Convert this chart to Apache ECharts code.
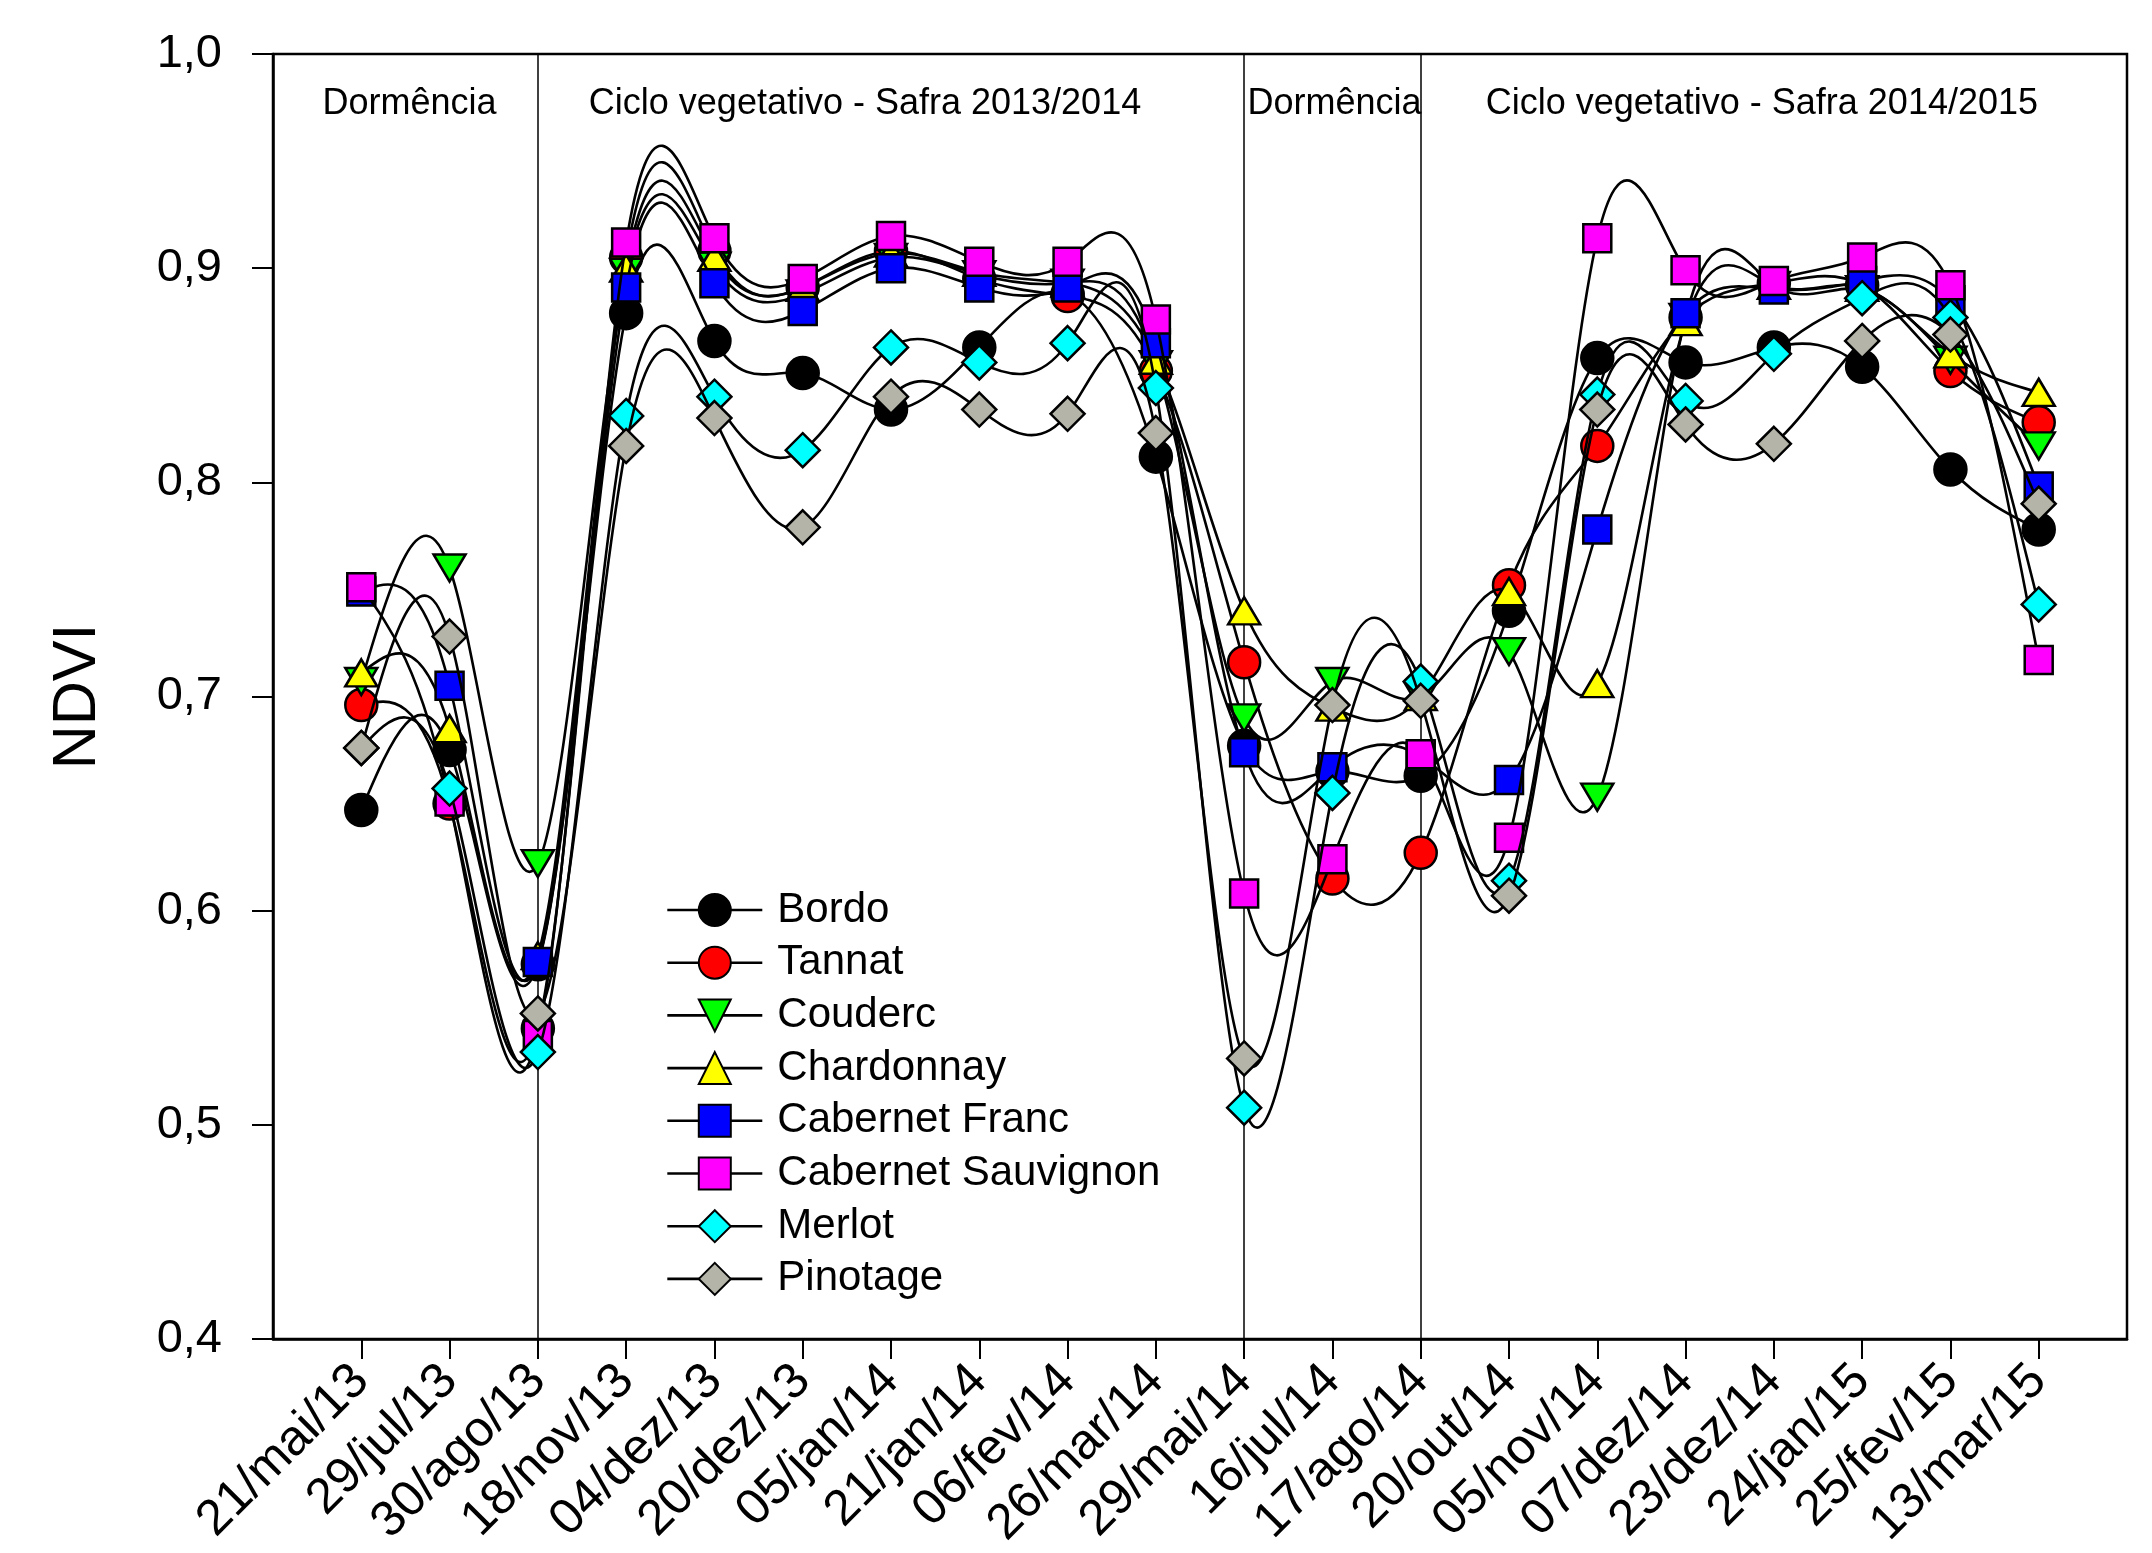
<!DOCTYPE html>
<html>
<head>
<meta charset="utf-8">
<script src="https://cdn.jsdelivr.net/npm/echarts@6/dist/echarts.min.js"></script>
<style>
html,body{margin:0;padding:0;background:#fff;}
#chart{width:2152px;height:1553px;}
</style>
</head>
<body>
<div id="chart"></div>
<script>
const categories = ['21/mai/13','29/jul/13','30/ago/13','18/nov/13','04/dez/13','20/dez/13','05/jan/14','21/jan/14','06/fev/14','26/mar/14','29/mai/14','16/jul/14','17/ago/14','20/out/14','05/nov/14','07/dez/14','23/dez/14','24/jan/15','25/fev/15','13/mar/15'];
const yTicks = [0.4, 0.5, 0.6, 0.7, 0.8, 0.9, 1.0];

const bordo      = [0.647,0.675,0.575,0.879,0.866,0.851,0.834,0.863,0.888,0.812,0.677,0.665,0.663,0.740,0.858,0.856,0.863,0.854,0.806,0.778];
const tannat     = [0.696,0.650,0.545,0.905,0.908,0.891,0.908,0.895,0.887,0.852,0.716,0.615,0.627,0.752,0.817,0.877,0.893,0.892,0.852,0.828];
const couderc    = [0.707,0.760,0.622,0.898,0.901,0.888,0.905,0.897,0.893,0.855,0.690,0.707,0.700,0.721,0.653,0.877,0.892,0.890,0.857,0.817];
const chardonnay = [0.711,0.685,0.579,0.900,0.905,0.891,0.907,0.898,0.893,0.857,0.740,0.695,0.700,0.749,0.706,0.875,0.892,0.891,0.860,0.842];
const cabFranc   = [0.749,0.705,0.576,0.891,0.893,0.880,0.900,0.891,0.891,0.865,0.674,0.667,0.672,0.661,0.778,0.879,0.890,0.894,0.885,0.798];
const cabSauv    = [0.751,0.651,0.542,0.912,0.914,0.895,0.915,0.903,0.903,0.876,0.608,0.624,0.673,0.634,0.914,0.899,0.894,0.905,0.892,0.717];
const merlot     = [0.676,0.657,0.534,0.831,0.840,0.815,0.863,0.856,0.865,0.844,0.508,0.655,0.707,0.614,0.841,0.838,0.860,0.886,0.877,0.743];
const pinotage   = [0.676,0.728,0.552,0.817,0.830,0.779,0.840,0.834,0.832,0.823,0.531,0.696,0.698,0.607,0.834,0.827,0.818,0.866,0.869,0.790];

const seriesNames = ['Bordo','Tannat','Couderc','Chardonnay','Cabernet Franc','Cabernet Sauvignon','Merlot','Pinotage'];
const seriesValues = [bordo, tannat, couderc, chardonnay, cabFranc, cabSauv, merlot, pinotage];

const boundaryDates = ['30/ago/13','29/mai/14','17/ago/14'];
const periodLabels = ['Dormência','Ciclo vegetativo - Safra 2013/2014','Dormência','Ciclo vegetativo - Safra 2014/2015'];

const FONT = "'Liberation Sans', Arial, sans-serif";
const styles = [
  {symbol:'circle', size:32, color:'#000000', rotate:0},
  {symbol:'circle', size:32, color:'#ff0000', rotate:0},
  {symbol:'triangle', size:[32,27], color:'#00ff00', rotate:180},
  {symbol:'triangle', size:[32,27], color:'#ffff00', rotate:0},
  {symbol:'rect', size:28, color:'#0000ff', rotate:0},
  {symbol:'rect', size:28, color:'#ff00ff', rotate:0},
  {symbol:'diamond', size:34, color:'#00ffff', rotate:0},
  {symbol:'diamond', size:34, color:'#b4b4a8', rotate:0}
];

const idx = name => categories.indexOf(name) + 1;
const xMax = categories.length + 1;
const bounds = [0].concat(boundaryDates.map(idx)).concat([xMax]);
const labelOffsets = [[4,0],[-26,0],[2,0],[-12,0]];

// natural cubic spline second derivatives (unit spacing), used to draw curve segments as exact Beziers
function splineSecond(y) {
  const n = y.length;
  const M = new Array(n).fill(0);
  if (n < 3) return M;
  const cp = new Array(n).fill(0), dp = new Array(n).fill(0);
  for (let i = 1; i < n - 1; i++) {
    const d = 6 * (y[i + 1] - 2 * y[i] + y[i - 1]);
    const denom = 4 - (i > 1 ? cp[i - 1] : 0);
    cp[i] = 1 / denom;
    dp[i] = (d - (i > 1 ? dp[i - 1] : 0)) / denom;
  }
  for (let i = n - 2; i >= 1; i--) {
    M[i] = dp[i] - cp[i] * (i < n - 2 ? M[i + 1] : 0);
  }
  return M;
}

const series = [];
seriesNames.forEach((name, s) => {
  const st = styles[s];
  const vals = seriesValues[s];
  const M = splineSecond(vals);
  series.push({
    name: name + ' (curva)',
    type: 'custom',
    silent: true,
    clip: true,
    z: 10 + 2 * s,
    data: vals.slice(0, -1).map((v, i) => [i + 1, v]),
    renderItem: function (params, api) {
      const i = params.dataIndex;
      const y0 = vals[i], y1 = vals[i + 1];
      const dy = y1 - y0;
      const m0 = dy - (2 * M[i] + M[i + 1]) / 6;
      const m1 = dy + (M[i] + 2 * M[i + 1]) / 6;
      const p0 = api.coord([i + 1, y0]);
      const p1 = api.coord([i + 2, y1]);
      const c1 = api.coord([i + 1 + 1 / 3, y0 + m0 / 3]);
      const c2 = api.coord([i + 2 - 1 / 3, y1 - m1 / 3]);
      return {
        type: 'bezierCurve',
        shape: {x1: p0[0], y1: p0[1], x2: p1[0], y2: p1[1], cpx1: c1[0], cpy1: c1[1], cpx2: c2[0], cpy2: c2[1]},
        style: {stroke: '#000', lineWidth: 2.6, fill: null}
      };
    }
  });
  const obj = {
    name: name,
    type: 'line',
    data: vals.map((v, i) => [i + 1, v]),
    symbol: st.symbol,
    symbolSize: st.size,
    symbolRotate: st.rotate,
    showAllSymbol: true,
    lineStyle: {color:'#000', width:0, opacity:0},
    itemStyle: {color: st.color, borderColor:'#000', borderWidth:2.5},
    emphasis: {disabled:true},
    z: 11 + 2 * s
  };
  if (s === 0) {
    obj.markLine = {
      silent: true,
      symbol: 'none',
      label: {show:false},
      lineStyle: {color:'#000', width:1.5, type:'solid', opacity:1},
      data: boundaryDates.map(d => ({xAxis: idx(d)}))
    };
    obj.markArea = {
      silent: true,
      itemStyle: {color:'rgba(0,0,0,0)'},
      data: periodLabels.map((t, k) => [
        {xAxis: bounds[k], yAxis: 1.0, name: t,
         label: {show:true, position:'insideTop', distance:32, offset: labelOffsets[k],
                 color:'#000', fontSize:36, fontFamily: FONT}},
        {xAxis: bounds[k+1], yAxis: 0.4}
      ])
    };
  }
  series.push(obj);
});

const chart = echarts.init(document.getElementById('chart'), null, {renderer:'canvas'});
chart.setOption({
  animation: false,
  backgroundColor: '#fff',
  grid: {left:273, right:25, top:54, bottom:214, show:true, borderColor:'#000', borderWidth:2.5, backgroundColor:'transparent'},
  legend: {
    orient: 'vertical',
    left: 661,
    top: 884,
    itemWidth: 95,
    itemHeight: 40,
    itemGap: 10.7,
    data: seriesNames,
    lineStyle: {color:'#000', width:2.6, opacity:1},
    textStyle: {fontSize: 42, fontFamily: FONT, color:'#000', padding:[0,0,0,10]},
    selectedMode: false
  },
  xAxis: {
    type: 'value',
    min: 0,
    max: xMax,
    interval: 1,
    splitLine: {show:false},
    axisLine: {show:true, lineStyle:{color:'#000', width:2.5}},
    axisTick: {show:true, inside:false, length:20, lineStyle:{color:'#000', width:2},
               customValues: categories.map((c, i) => i + 1)},
    axisLabel: {
      customValues: categories.map((c, i) => i + 1),
      formatter: v => categories[Math.round(v) - 1] || '',
      rotate: 45,
      fontSize: 50,
      fontFamily: FONT,
      color: '#000',
      margin: 34
    }
  },
  yAxis: {
    type: 'value',
    min: yTicks[0],
    max: yTicks[yTicks.length - 1],
    interval: 0.1,
    name: 'NDVI',
    nameLocation: 'middle',
    nameGap: 164,
    nameRotate: 90,
    nameTextStyle: {fontSize: 61, fontFamily: FONT, color:'#000'},
    splitLine: {show:false},
    axisLine: {show:true, lineStyle:{color:'#000', width:2.5}},
    axisTick: {show:true, inside:false, length:21, lineStyle:{color:'#000', width:2}},
    axisLabel: {
      formatter: v => v.toFixed(1).replace('.', ','),
      fontSize: 47,
      fontFamily: FONT,
      color: '#000',
      margin: 51
    }
  },
  series: series
});
</script>
</body>
</html>
